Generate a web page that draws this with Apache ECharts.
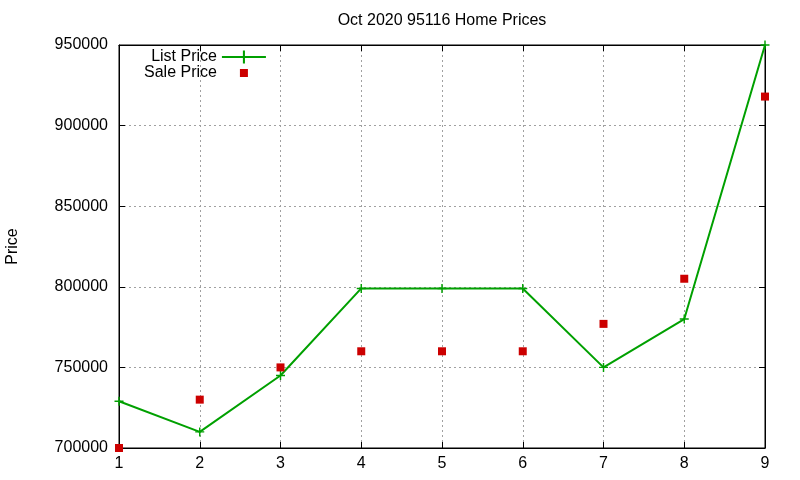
<!DOCTYPE html>
<html><head><meta charset="utf-8">
<script src="https://cdn.jsdelivr.net/npm/echarts@6/dist/echarts.min.js"></script>
<style>html,body{margin:0;padding:0;background:#fff}#c{width:800px;height:480px}</style>
</head><body><div id="c"></div>
<script>
const xValues = [1, 2, 3, 4, 5, 6, 7, 8, 9];
const listPrice = [729000, 710000, 745000, 799000, 799000, 799000, 750000, 780000, 950000];
const salePrice = [700000, 730000, 750000, 760000, 760000, 760000, 777000, 805000, 918000];
const titleText = 'Oct 2020 95116 Home Prices';
const yLabel = 'Price';

const font = 'Liberation Sans, Arial, sans-serif';
const plus = 'path://M4.2,0H5.8V4.2H10V5.8H5.8V10H4.2V5.8H0V4.2H4.2Z';
const chart = echarts.init(document.getElementById('c'), null, {renderer: 'canvas'});
const tickCommon = {show: true, inside: true, length: 6, lineStyle: {color: '#000', width: 1}};
chart.setOption({
  animation: false,
  backgroundColor: '#fff',
  graphic: [{
    type: 'text', x: 442, y: 21,
    style: {text: titleText, textAlign: 'center', textVerticalAlign: 'middle', font: '16px ' + font, fill: '#000'}
  }],
  grid: {left: 119, right: 35, top: 45, bottom: 32, show: true, borderColor: '#000', borderWidth: 1, outerBoundsMode: 'none', containLabel: false},
  legend: {
    orient: 'vertical', left: 139, top: 44, itemGap: 0, align: 'right',
    itemWidth: 44, itemHeight: 16,
    textStyle: {fontFamily: font, fontSize: 16, color: '#000', width: 72, align: 'right', padding: [0, 0, 0, 0]},
    data: [
      {name: 'List Price'},
      {name: 'Sale Price', icon: 'path://M0,0M16,16M4,4H12V12H4Z'}
    ]
  },
  xAxis: [{
    type: 'value', min: 1, max: 9, interval: 1,
    axisLine: {show: true, lineStyle: {color: '#000', width: 1}},
    axisTick: tickCommon,
    axisLabel: {fontFamily: font, fontSize: 16, color: '#000', margin: 8},
    splitLine: {show: true, lineStyle: {color: '#a0a0a0', type: [2, 3], width: 1}}
  }, {
    type: 'value', min: 1, max: 9, interval: 1, position: 'top',
    axisLine: {show: true, lineStyle: {color: '#000'}}, axisTick: tickCommon,
    axisLabel: {show: false}, splitLine: {show: false}
  }],
  yAxis: [{
    type: 'value', min: 700000, max: 950000, interval: 50000,
    name: yLabel, nameLocation: 'middle', nameGap: 98, nameRotate: 90,
    nameTextStyle: {fontFamily: font, fontSize: 16, color: '#000'},
    axisLine: {show: true, lineStyle: {color: '#000', width: 1}},
    axisTick: tickCommon,
    axisLabel: {fontFamily: font, fontSize: 16, color: '#000', margin: 11, formatter: v => String(v)},
    splitLine: {show: true, lineStyle: {color: '#a0a0a0', type: [2, 3], width: 1}}
  }, {
    type: 'value', min: 700000, max: 950000, interval: 50000, position: 'right',
    axisLine: {show: true, lineStyle: {color: '#000'}}, axisTick: tickCommon,
    axisLabel: {show: false}, splitLine: {show: false}
  }],
  series: [{
    name: 'List Price', type: 'line',
    data: xValues.map((x, i) => [x, listPrice[i]]),
    symbol: plus, symbolSize: 9, showAllSymbol: true,
    lineStyle: {color: '#00a000', width: 2},
    itemStyle: {color: '#00a000'},
    z: 3
  }, {
    name: 'Sale Price', type: 'scatter',
    data: xValues.map((x, i) => [x, salePrice[i]]),
    symbol: 'rect', symbolSize: 8,
    itemStyle: {color: '#cc0000', opacity: 1},
    z: 4
  }]
});
</script></body></html>
